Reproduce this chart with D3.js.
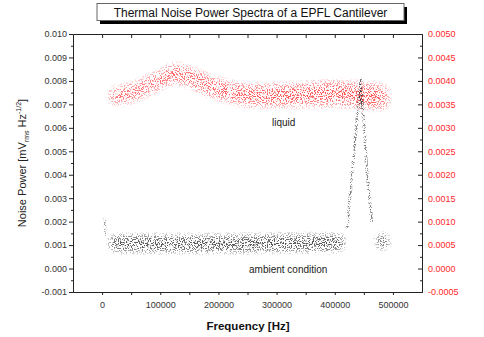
<!DOCTYPE html>
<html>
<head>
<meta charset="utf-8">
<script src="https://cdn.jsdelivr.net/npm/d3@7"></script>
<style>
  body { margin: 0; background: #fff; }
  svg { display: block; font-family: "Liberation Sans", Arial, sans-serif; }
</style>
</head>
<body>
<svg id="chart" width="484" height="337"></svg>
<script>
// ---- data ----
// liquid (red, right axis): centre of the noise band and its half-width
const liquidFreq   = [4000, 25000, 50000, 75000, 100000, 125000, 150000, 175000, 200000, 225000, 250000, 300000, 350000, 400000, 450000, 500000];
const liquidMid    = [0.00367, 0.00368, 0.00374, 0.00387, 0.00402, 0.00418, 0.00409, 0.00393, 0.00383, 0.00374, 0.00369, 0.00369, 0.00371, 0.00373, 0.00369, 0.00363];
const liquidSpread = [0.00028, 0.00027, 0.00027, 0.00028, 0.00028, 0.00029, 0.0003, 0.0003, 0.0003, 0.0003, 0.00031, 0.00032, 0.00033, 0.00034, 0.00035, 0.00035];

// ambient condition (black, left axis): band below and after the resonance
const ambientLowFreq   = [5000, 100000, 200000, 300000, 400000, 424000];
const ambientLowMid    = [0.00108, 0.00106, 0.00106, 0.00108, 0.00110, 0.00112];
const ambientHighFreq  = [464000, 480000, 500000];
const ambientHighMid   = [0.00116, 0.00115, 0.00113];
const ambientSpread    = 0.0005;

// resonance peak and the spike at the start of the sweep
const peakFreq  = [420800, 427600, 432800, 437900, 444800, 450000, 455000, 461900, 463600];
const peakValue = [0.00162, 0.00345, 0.0049, 0.0063, 0.0081, 0.0063, 0.0042, 0.0025, 0.0019];
const spikeFreq  = [4000, 5500, 8000];
const spikeValue = [0.00222, 0.00165, 0.0013];

// ticks
const xTicks  = [0, 100000, 200000, 300000, 400000, 500000];
const xMinor  = [50000, 150000, 250000, 350000, 450000];
const yLTicks = [-0.001, 0, 0.001, 0.002, 0.003, 0.004, 0.005, 0.006, 0.007, 0.008, 0.009, 0.010];
const yRTicks = [-0.0005, 0, 0.0005, 0.001, 0.0015, 0.002, 0.0025, 0.003, 0.0035, 0.004, 0.0045, 0.005];

const titleText = 'Thermal Noise Power Spectra of a EPFL Cantilever';

// ---- layout ----
const plot = { left: 73, right: 422, top: 34, bottom: 292 };
const svg = d3.select('#chart');

const x  = d3.scaleLinear().domain([-50000, 550000]).range([plot.left, plot.right]);
const yL = d3.scaleLinear().domain([-0.001, 0.010]).range([plot.bottom, plot.top]);
const yR = d3.scaleLinear().domain([-0.0005, 0.005]).range([plot.bottom, plot.top]);

// speckle filters give the bands a scattered-dot look
const defs = svg.append('defs');
function speckle(id, colour, blur, slope, intercept, seed) {
  const f = defs.append('filter').attr('id', id)
    .attr('filterUnits', 'userSpaceOnUse')
    .attr('x', 0).attr('y', 0).attr('width', 484).attr('height', 337)
    .attr('color-interpolation-filters', 'sRGB');
  f.append('feGaussianBlur').attr('in', 'SourceAlpha').attr('stdDeviation', blur).attr('result', 'soft');
  // baseFrequency off the integer lattice, otherwise the noise is flat at pixel centres
  f.append('feTurbulence').attr('type', 'fractalNoise').attr('baseFrequency', 0.83)
    .attr('numOctaves', 2).attr('seed', seed).attr('result', 'noise');
  f.append('feColorMatrix').attr('in', 'noise').attr('type', 'matrix')
    .attr('values', '0 0 0 0 0  0 0 0 0 0  0 0 0 0 0  5 0 0 0 -2').attr('result', 'na');
  f.append('feComposite').attr('in', 'na').attr('in2', 'soft')
    .attr('operator', 'arithmetic').attr('k1', 1).attr('result', 'prod');
  const ct = f.append('feComponentTransfer').attr('in', 'prod').attr('result', 'dots');
  ct.append('feFuncA').attr('type', 'linear').attr('slope', slope).attr('intercept', intercept);
  f.append('feFlood').attr('flood-color', colour).attr('result', 'col');
  f.append('feComposite').attr('in', 'col').attr('in2', 'dots').attr('operator', 'in');
}
speckle('spkRed', '#ff5252', 8, 2.0, -0.95, 7);
speckle('spkBlack', '#444', 7, 2.0, -0.95, 11);
speckle('spkPeak', '#3a3a3a', 1.4, 2.0, -0.8, 3);

// ---- data layers ----
const liquid = liquidFreq.map((f, i) => ({ f, m: liquidMid[i], s: liquidSpread[i] }));
svg.append('path')
  .datum(liquid)
  .attr('d', d3.area().curve(d3.curveMonotoneX)
    .x(d => x(d.f)).y0(d => yR(d.m - d.s)).y1(d => yR(d.m + d.s)))
  .attr('fill', '#000')
  .attr('filter', 'url(#spkRed)');

[[ambientLowFreq, ambientLowMid], [ambientHighFreq, ambientHighMid]].forEach(([fs, ms]) => {
  const seg = fs.map((f, i) => ({ f, m: ms[i] }));
  svg.append('path')
    .datum(seg)
    .attr('d', d3.area().curve(d3.curveMonotoneX)
      .x(d => x(d.f)).y0(d => yL(d.m - ambientSpread)).y1(d => yL(d.m + ambientSpread)))
    .attr('fill', '#000')
    .attr('filter', 'url(#spkBlack)');
});

const strand = d3.line().x(d => x(d[0])).y(d => yL(d[1]));
svg.append('path')
  .attr('d', strand(peakFreq.map((f, i) => [f, peakValue[i]])))
  .attr('fill', 'none').attr('stroke', '#000').attr('stroke-width', 3.4)
  .attr('stroke-linejoin', 'round')
  .attr('filter', 'url(#spkPeak)');
svg.append('path')
  .attr('d', strand(spikeFreq.map((f, i) => [f, spikeValue[i]])))
  .attr('fill', 'none').attr('stroke', '#000').attr('stroke-width', 3)
  .attr('filter', 'url(#spkPeak)');

// ---- axes ----
const minus = s => s.replace('\u2212', '-');
const axisColour = '#222';

svg.append('g').attr('transform', `translate(0,${plot.bottom})`)
  .call(d3.axisBottom(x).tickValues(xTicks).tickFormat(d3.format('d')).tickSize(3).tickPadding(7).tickSizeOuter(0));
svg.append('g').attr('transform', `translate(0,${plot.bottom})`)
  .call(d3.axisBottom(x).tickValues(xMinor).tickFormat('').tickSize(3).tickSizeOuter(0));

svg.append('g').attr('transform', `translate(0,${plot.top})`)
  .call(d3.axisTop(x).tickValues(xTicks.concat(xMinor)).tickFormat('').tickSize(-4).tickSizeOuter(0));

svg.append('g').attr('transform', `translate(${plot.left},0)`)
  .call(d3.axisLeft(yL).tickValues(yLTicks).tickFormat(d => minus(d3.format('.3f')(d))).tickSize(4).tickPadding(2).tickSizeOuter(0));
svg.append('g').attr('transform', `translate(${plot.left},0)`)
  .call(d3.axisLeft(yL).tickValues(yLTicks.slice(0, -1).map(v => v + 0.0005)).tickFormat('').tickSize(2).tickSizeOuter(0));

const gRight = svg.append('g').attr('transform', `translate(${plot.right},0)`)
  .call(d3.axisRight(yR).tickValues(yRTicks).tickFormat(d => minus(d3.format('.4f')(d))).tickSize(-4).tickPadding(6).tickSizeOuter(0));
svg.append('g').attr('transform', `translate(${plot.right},0)`)
  .call(d3.axisRight(yR).tickValues(yRTicks.slice(0, -1).map(v => v + 0.00025)).tickFormat('').tickSize(-2).tickSizeOuter(0));

svg.selectAll('.domain, .tick line').attr('stroke', axisColour);
svg.selectAll('.tick text').attr('font-size', 9).attr('fill', '#333')
  .attr('font-family', '"Liberation Sans", Arial, sans-serif');
gRight.selectAll('.tick text').attr('fill', '#ff2a2a');

// ---- texts ----
svg.append('rect').attr('x', 100).attr('y', 7).attr('width', 307).attr('height', 17).attr('fill', '#000');
svg.append('rect').attr('x', 97).attr('y', 3.5).attr('width', 307).attr('height', 17)
  .attr('fill', '#fff').attr('stroke', '#666').attr('stroke-width', 1);
svg.append('text').attr('x', 250.5).attr('y', 16.5).attr('text-anchor', 'middle')
  .attr('font-size', 12).attr('fill', '#111').text(titleText);

svg.append('text').attr('x', 248).attr('y', 330).attr('text-anchor', 'middle')
  .attr('font-size', 11.5).attr('font-weight', 'bold').attr('fill', '#111').text('Frequency [Hz]');

const yLab = svg.append('text')
  .attr('transform', `translate(26,${(plot.top + plot.bottom) / 2}) rotate(-90)`)
  .attr('text-anchor', 'middle').attr('font-size', 11).attr('fill', '#222');
yLab.append('tspan').text('Noise Power [mV');
yLab.append('tspan').attr('font-size', 7).attr('dy', 3).text('rms');
yLab.append('tspan').attr('dy', -3).text(' Hz');
yLab.append('tspan').attr('font-size', 7).attr('dy', -5).text('-1/2');
yLab.append('tspan').attr('dy', 5).text(']');

svg.append('text').attr('x', 272).attr('y', 126).attr('font-size', 10).attr('fill', '#222').text('liquid');
svg.append('text').attr('x', 249).attr('y', 273).attr('font-size', 10).attr('fill', '#222').text('ambient condition');
</script>
</body>
</html>
